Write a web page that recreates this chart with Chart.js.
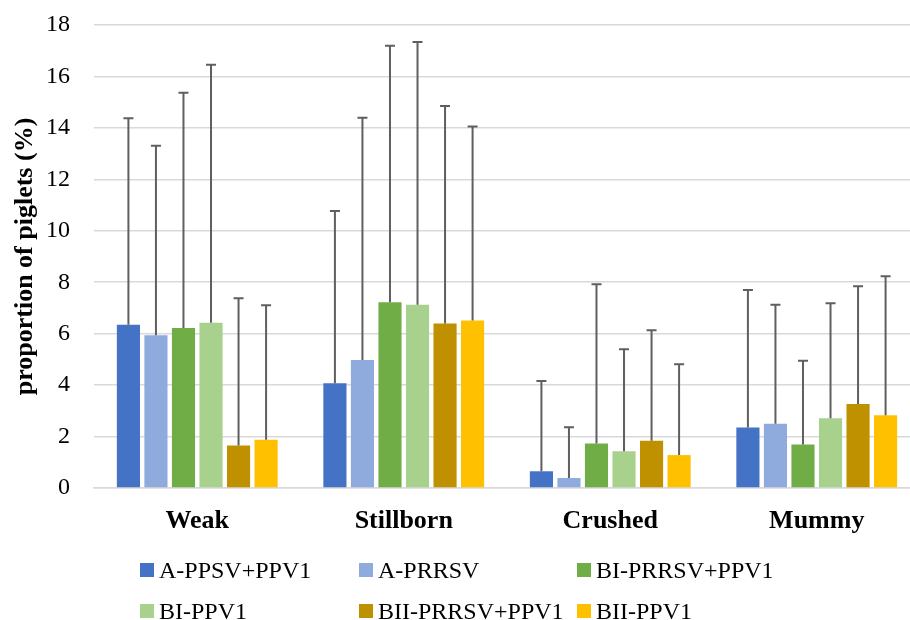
<!DOCTYPE html>
<html lang="en">
<head>
    <meta charset="UTF-8">
    <title>Piglet outcomes</title>
    <script src="https://cdn.jsdelivr.net/npm/chart.js"></script>
    <style>
        body { margin: 0; background: #fff; overflow: hidden; }
        .wrap { position: relative; width: 910px; height: 620px; overflow: hidden; }
        #legend { position: absolute; left: 0; top: 0; width: 910px; height: 620px; pointer-events: none; }
        .item { position: absolute; display: flex; align-items: center; font: 24px "Liberation Serif", "Times New Roman", serif; color: #000; white-space: nowrap; }
        .box { width: 14px; height: 14px; margin-right: 5px; }
    </style>

    <script type=text/javascript>
        // chart data
        var categories = ['Weak', 'Stillborn', 'Crushed', 'Mummy'];
        var seriesNames = ['A-PPSV+PPV1', 'A-PRRSV', 'BI-PRRSV+PPV1', 'BI-PPV1', 'BII-PRRSV+PPV1', 'BII-PPV1'];
        var seriesColors = ['#4472C4', '#8FAADC', '#70AD47', '#A9D18E', '#BF9000', '#FFC000'];

        // mean values
        var aPpsvPpv1    = [6.35, 4.07, 0.65, 2.35];
        var aPrrsv       = [5.94, 4.98, 0.39, 2.50];
        var biPrrsvPpv1  = [6.22, 7.22, 1.73, 1.69];
        var biPpv1       = [6.42, 7.12, 1.43, 2.71];
        var biiPrrsvPpv1 = [1.65, 6.40, 1.84, 3.27];
        var biiPpv1      = [1.88, 6.51, 1.28, 2.83];

        // top of error bars
        var aPpsvPpv1Top    = [14.37, 10.77, 4.16, 7.70];
        var aPrrsvTop       = [13.31, 14.39, 2.36, 7.12];
        var biPrrsvPpv1Top  = [15.37, 17.19, 7.92, 4.95];
        var biPpv1Top       = [16.45, 17.34, 5.39, 7.18];
        var biiPrrsvPpv1Top = [7.38, 14.85, 6.13, 7.84];
        var biiPpv1Top      = [7.10, 14.05, 4.81, 8.23];

        var yTicks = [0, 2, 4, 6, 8, 10, 12, 14, 16, 18];
    </script>
</head>
<body>
    <div class="wrap">
        <canvas id="chart" width="920" height="620" style="width:920px;height:620px"></canvas>
        <div id="legend"></div>
    </div>

    <script type=text/javascript>
        var means = [aPpsvPpv1, aPrrsv, biPrrsvPpv1, biPpv1, biiPrrsvPpv1, biiPpv1];
        var tops = [aPpsvPpv1Top, aPrrsvTop, biPrrsvPpv1Top, biPpv1Top, biiPrrsvPpv1Top, biiPpv1Top];
        var serif = '"Liberation Serif", "Times New Roman", serif';

        // upper error bars drawn on top of the bars
        var errorBars = {
            id: 'errorBars',
            afterDatasetsDraw: function(chart) {
                var ctx = chart.ctx;
                var y = chart.scales.y;
                ctx.save();
                ctx.strokeStyle = '#5f5f5f';
                ctx.lineWidth = 2;
                chart.data.datasets.forEach(function(ds, i) {
                    var meta = chart.getDatasetMeta(i);
                    meta.data.forEach(function(bar, j) {
                        var yTop = y.getPixelForValue(ds.errTop[j]);
                        ctx.beginPath();
                        ctx.moveTo(bar.x, bar.y);
                        ctx.lineTo(bar.x, yTop);
                        ctx.moveTo(bar.x - 5, yTop);
                        ctx.lineTo(bar.x + 5, yTop);
                        ctx.stroke();
                    });
                });
                ctx.restore();
            }
        };

        var datasets = seriesNames.map(function(name, i) {
            return {
                label: name,
                data: means[i],
                errTop: tops[i],
                backgroundColor: seriesColors[i],
                borderWidth: 0,
                categoryPercentage: 0.8,
                barPercentage: 0.84
            };
        });

        var chart = new Chart(document.getElementById('chart').getContext('2d'), {
            type: 'bar',
            data: { labels: categories, datasets: datasets },
            options: {
                responsive: false,
                animation: false,
                layout: { padding: { top: 25, right: 0, bottom: 0, left: 0 } },
                plugins: {
                    legend: { display: false },
                    tooltip: { enabled: false }
                },
                scales: {
                    x: {
                        grid: { display: false, drawTicks: false },
                        border: { display: true, color: '#d9d9d9', width: 1.5 },
                        ticks: {
                            padding: 18,
                            color: '#000',
                            font: { family: serif, size: 26, weight: 'bold' }
                        },
                        afterFit: function(scale) { scale.height = 132; }
                    },
                    y: {
                        min: 0,
                        max: 18,
                        afterBuildTicks: function(scale) {
                            scale.ticks = yTicks.map(function(v) { return { value: v }; });
                        },
                        grid: { color: '#d9d9d9', lineWidth: 1.5, drawTicks: false },
                        border: { display: false },
                        ticks: {
                            padding: 24,
                            color: '#000',
                            font: { family: serif, size: 24 }
                        },
                        title: {
                            display: true,
                            text: 'proportion of piglets (%)',
                            color: '#000',
                            padding: { top: 10, bottom: 0 },
                            font: { family: serif, size: 26, weight: 'bold' }
                        },
                        afterFit: function(scale) {
                            scale.width = 94;
                            scale.paddingTop = 0;
                            scale.paddingBottom = 0;
                        }
                    }
                }
            },
            plugins: [errorBars]
        });

        // legend in three columns, built from the chart's datasets
        var legendCols = [140, 359, 577];
        var legendRows = [570, 611];
        var legendEl = document.getElementById('legend');
        chart.data.datasets.forEach(function(ds, i) {
            var item = document.createElement('div');
            item.className = 'item';
            item.style.left = legendCols[i % 3] + 'px';
            item.style.top = (legendRows[Math.floor(i / 3)] - 15) + 'px';
            item.style.height = '30px';
            var box = document.createElement('span');
            box.className = 'box';
            box.style.background = ds.backgroundColor;
            item.appendChild(box);
            item.appendChild(document.createTextNode(ds.label));
            legendEl.appendChild(item);
        });
    </script>
</body>
</html>
